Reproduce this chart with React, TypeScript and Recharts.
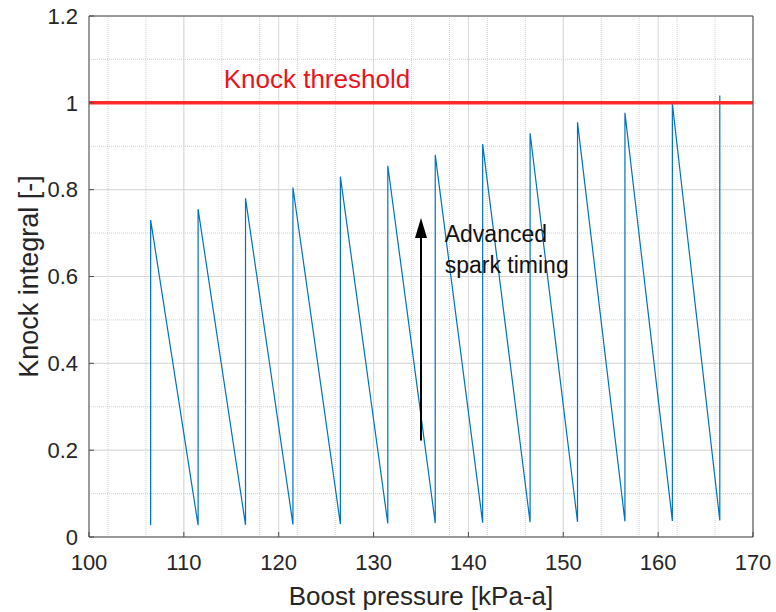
import React from 'react';
import { LineChart, Line, XAxis, YAxis, CartesianGrid, ReferenceLine, ReferenceDot } from 'recharts';

// spark sweeps: each sweep starts at a boost step, jumps up to its peak, then decays
const sparkX = [106.5, 111.5, 116.5, 121.5, 126.5, 131.5, 136.5, 141.5, 146.5, 151.5, 156.5, 161.5, 166.5];
const peakKnock = [0.73, 0.755, 0.78, 0.805, 0.83, 0.855, 0.88, 0.905, 0.93, 0.955, 0.977, 0.998, 1.017];
const troughKnock = [0.027, 0.027, 0.028, 0.029, 0.03, 0.031, 0.032, 0.033, 0.034, 0.035, 0.036, 0.037, 0.038];

const xTicks = [100, 110, 120, 130, 140, 150, 160, 170];
const yTicks = [0, 0.2, 0.4, 0.6, 0.8, 1, 1.2];
const threshold = 1;

const xMinor: number[] = [];
for (let v = 100; v <= 170; v += 2) xMinor.push(v);
const yMinor: number[] = [];
for (let i = 0; i <= 24; i++) yMinor.push(+(i * 0.05).toFixed(2));

const points: { x: number; y: number }[] = [];
sparkX.forEach((x, i) => {
  points.push({ x, y: troughKnock[i] });
  points.push({ x, y: peakKnock[i] });
});

const font = '"Liberation Sans", Arial, sans-serif';
const axisColor = '#4a4a4a';
const tickStyle = { fontSize: 22, fill: '#262626', fontFamily: font };

const ArrowHead = (props: any) => {
  const { cx, cy } = props;
  return <polygon points={`${cx},${cy} ${cx - 6},${cy + 20} ${cx + 6},${cy + 20}`} fill="#000" />;
};

const makeText = (lines: string[], size: number, color: string, gap: number) => (props: any) => {
  const { cx, cy } = props;
  return (
    <text x={cx} y={cy} fill={color} fontSize={size} fontFamily={font} textAnchor="start">
      {lines.map((l, i) => (
        <tspan key={i} x={cx} dy={i === 0 ? 0 : gap}>{l}</tspan>
      ))}
    </text>
  );
};

export default function App() {
  return (
    <div style={{ position: 'fixed', left: 0, top: 0, width: 776, height: 612, background: '#fff' }}>
      <LineChart width={776} height={612} data={points} margin={{ top: 15, right: 22, bottom: 0, left: 0 }}>
        <CartesianGrid
          xAxisId="b"
          yAxisId="l"
          verticalValues={xMinor}
          horizontalValues={yMinor}
          stroke="#d2d2d2"
          strokeDasharray="1 1"
        />
        <CartesianGrid
          xAxisId="b"
          yAxisId="l"
          verticalValues={xTicks}
          horizontalValues={yTicks}
          stroke="#d8d8d8"
        />
        <XAxis
          xAxisId="b"
          dataKey="x"
          type="number"
          domain={[100, 170]}
          ticks={xTicks}
          allowDataOverflow
          height={75}
          tickSize={-5}
          tickMargin={22}
          stroke={axisColor}
          tick={tickStyle}
          label={{ value: 'Boost pressure [kPa-a]', position: 'center', dy: 21, style: { fontSize: 26, fill: '#262626', fontFamily: font } }}
        />
        <XAxis
          xAxisId="t"
          orientation="top"
          dataKey="x"
          type="number"
          domain={[100, 170]}
          ticks={xTicks}
          height={1}
          tickSize={-5}
          stroke={axisColor}
          tick={false}
        />
        <YAxis
          yAxisId="l"
          type="number"
          domain={[0, 1.2]}
          ticks={yTicks}
          allowDataOverflow
          width={89}
          tickSize={-5}
          tickMargin={16}
          stroke={axisColor}
          tick={tickStyle}
          label={{ value: 'Knock integral [-]', angle: -90, position: 'center', dx: -16, style: { fontSize: 27, fill: '#262626', fontFamily: font } }}
        />
        <YAxis
          yAxisId="r"
          orientation="right"
          type="number"
          domain={[0, 1.2]}
          ticks={yTicks}
          width={1}
          tickSize={-5}
          stroke={axisColor}
          tick={false}
        />
        <Line
          xAxisId="b"
          yAxisId="l"
          dataKey="y"
          type="linear"
          stroke="#0072BD"
          strokeWidth={1.2}
          dot={false}
          activeDot={false}
          isAnimationActive={false}
        />
        <ReferenceLine xAxisId="b" yAxisId="l" y={threshold} stroke="#ff2a2a" strokeWidth={3.5} />
        <ReferenceLine
          xAxisId="b"
          yAxisId="l"
          segment={[{ x: 135, y: 0.222 }, { x: 135, y: 0.7 }]}
          stroke="#000"
          strokeWidth={2}
        />
        <ReferenceDot xAxisId="b" yAxisId="l" x={135} y={0.735} shape={ArrowHead} />
        <ReferenceDot
          xAxisId="b"
          yAxisId="l"
          x={114.2}
          y={1.034}
          shape={makeText(['Knock threshold'], 26, '#e8141c', 0)}
        />
        <ReferenceDot
          xAxisId="b"
          yAxisId="l"
          x={137.5}
          y={0.679}
          shape={makeText(['Advanced', 'spark timing'], 23, '#111', 31)}
        />
      </LineChart>
    </div>
  );
}
